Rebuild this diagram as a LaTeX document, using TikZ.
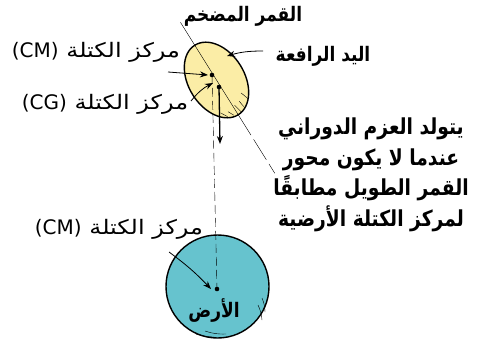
\documentclass[tikz,border=0pt]{standalone}
\usepackage{fontspec}
\setmainfont{DejaVu Sans}
\newfontfamily\arabicfont[Script=Arabic, FakeStretch=1.2]{DejaVu Sans}
\newfontfamily\arabicbold[Script=Arabic, FakeStretch=0.85]{DejaVu Sans Bold}
\TeXXeTstate=1
\usetikzlibrary{arrows.meta}

\definecolor{moonfill}{HTML}{FBEDA6}
\definecolor{earthfill}{HTML}{66C3CE}

\newcommand{\rtl}[1]{\beginR #1\endR}
\newcommand{\latin}[1]{\beginL{\normalfont\fontsize{20}{22}\selectfont #1}\endL}

\begin{document}
\begin{tikzpicture}[x=1pt, y=-1pt,
  every node/.style={inner sep=1pt},
  lbl/.style={font=\arabicfont\fontsize{20}{22}\selectfont},
  bold/.style={font=\arabicbold\fontsize{20}{22}\selectfont},
  para/.style={font=\arabicbold\fontsize{22}{30.5}\selectfont, align=center},
  ptr/.style={-{Stealth[length=8pt,width=6pt]}, thick}]

  \useasboundingbox (0,0) rectangle (487,342);

  %% Moon, stretched and tilted along its long axis
  \begin{scope}[shift={(216.5,80)}, rotate=32]
    \fill[moonfill] (0,0) ellipse [x radius=28, y radius=41];
    % long axis
    \draw[thin] (0,-68) -- (0,41);
    \draw[thin, dash pattern=on 24pt off 5pt] (0,41) -- (0,110);
    % shading strokes
    \draw[thin] (-14,30) -- (-10,37) (-7,33) -- (-4,39) (2,31) -- (4,40)
                (8,30) -- (9,37) (14,24) -- (17,33);
    \draw[line width=1.4pt] (0,0) ellipse [x radius=28, y radius=41];
  \end{scope}

  %% Earth
  \draw[line width=1.4pt, fill=earthfill] (217.5,286.5) circle (51.5);
  % shading strokes
  \draw[thin] (196,334) to[bend right=10] (214,337)
              (205,331) to[bend right=10] (226,334)
              (258,305) to[bend left=10] (262,320)
              (262,298) to[bend left=10] (265,312);

  % centres
  \coordinate (mooncm) at (212,75);
  \coordinate (mooncg) at (219,87);
  \coordinate (earthcm) at (217,289);
  \foreach \c in {mooncm, mooncg, earthcm}
    \fill (\c) circle (2.3);

  % line joining the two centres of mass
  \draw[dash pattern=on 9pt off 4pt] (mooncm) -- (earthcm);

  % pull on the centre of gravity
  \coordinate (pull) at (220,144);
  \draw[ptr, line width=1.3pt] (mooncg) -- (pull);

  %% Labels
  \node[bold] (bulge) at (243,16) {\rtl{القمر المضخم}};
  \node[lbl] (cmlbl) at (96,52) {\rtl{مركز الكتلة \latin{(CM)}}};
  \node[lbl] (cglbl) at (105,104) {\rtl{مركز الكتلة \latin{(CG)}}};
  \node[bold] (lever) at (323,56) {\rtl{اليد الرافعة}};
  \node[para] (torque) at (371,175)
    {\rtl{يتولد العزم الدوراني}\\ \rtl{عندما لا يكون محور}\\
     \rtl{القمر الطويل مطابقًا}\\ \rtl{لمركز الكتلة الأرضية}};
  \node[lbl] (ecmlbl) at (119,229) {\rtl{مركز الكتلة \latin{(CM)}}};
  \node[bold] (earth) at (214,310) {\rtl{الأرض}};

  %% Pointers
  \coordinate (cmtail) at (168,72);
  \draw[ptr] (cmtail) -- ([xshift=-4pt]mooncm);
  \coordinate (cgtail) at (191,101);
  \draw[ptr] (cgtail) to[bend left=12] ([xshift=-6pt,yshift=4pt]mooncg);
  \coordinate (levertail) at (263,51);
  \coordinate (leverend) at (227,56);
  \draw[ptr] (levertail) to[bend right=8] (leverend);
  \coordinate (ecmtail) at (169,252);
  \draw[ptr] (ecmtail) to[bend left=5] ([xshift=-6pt]earthcm);

\end{tikzpicture}
\end{document}
